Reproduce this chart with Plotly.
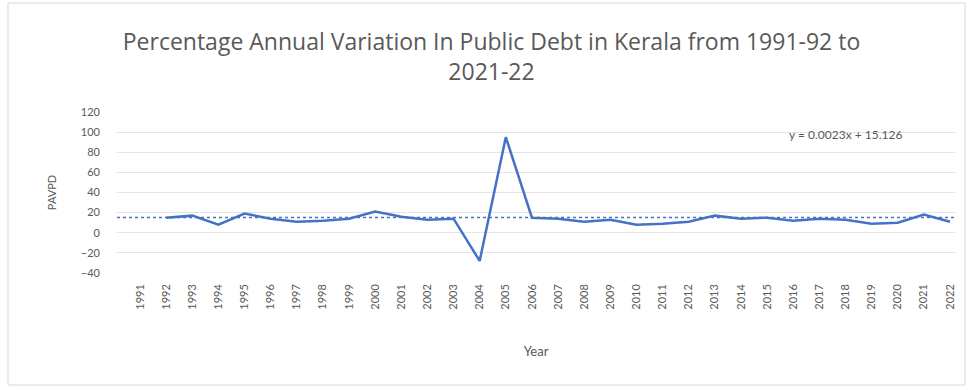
import plotly.graph_objects as go

years = [str(y) for y in range(1991, 2023)]
# 1991 has no value (variation starts 1991-92)
pavpd = [None, 15, 17, 8, 19, 14, 11, 12, 14, 21, 16, 13, 14, -28, 95, 15,
         14, 11, 13, 8, 9, 11, 17, 14, 15, 12, 14, 13, 9, 10, 18, 11]
trend_slope = 0.0023
trend_intercept = 15.126
y_ticks = [-40, -20, 0, 20, 40, 60, 80, 100, 120]

W, H = 968, 390
L, R, T, B = 117, 13, 112, 117
plot_w = W - L - R
plot_h = H - T - B
n = len(years)
first_px, last_px = 140, 950
step = (last_px - first_px) / (n - 1)
x_lo = -(first_px - L) / step
x_hi = (n - 1) + (W - R - last_px) / step

xs = list(range(n))
blue = "#4472C4"
grey = "#595959"

fig = go.Figure()
tx = [x_lo, x_hi]
ty = [trend_slope * v + trend_intercept for v in tx]
fig.add_trace(go.Scatter(x=tx, y=ty, mode="lines",
                         line=dict(color=blue, width=1.5, dash="dot"),
                         hoverinfo="skip", showlegend=False))
fig.add_trace(go.Scatter(x=xs, y=pavpd, mode="lines",
                         line=dict(color=blue, width=2.5),
                         connectgaps=False, showlegend=False))

fig.update_layout(
    template="none",
    width=W, height=H,
    margin=dict(l=L, r=R, t=T, b=B, autoexpand=False),
    paper_bgcolor="white", plot_bgcolor="white",
    font=dict(family="Lato, Open Sans, sans-serif", color=grey, size=11),
    title=dict(text="Percentage Annual Variation In Public Debt in Kerala from 1991-92 to<br>2021-22",
               x=491.5 / W, xref="container", y=(H - 50) / H, yref="container",
               xanchor="center", yanchor="top", automargin=False,
               font=dict(size=23, color=grey, family="Open Sans, Lato, sans-serif")),
    xaxis=dict(range=[x_lo, x_hi], tickmode="array", tickvals=xs, ticktext=years,
               tickangle=-90, showgrid=False, zeroline=False, showline=False,
               ticks="", ticklabelstandoff=8, automargin=False,
               tickfont=dict(size=11, color=grey),
               title=dict(text="Year", standoff=38, font=dict(size=13, color=grey))),
    yaxis=dict(range=[-40, 120], tickmode="array", tickvals=y_ticks,
               showgrid=True, gridcolor="#e6e4e2", gridwidth=1.2,
               zeroline=False, showline=False, ticks="", ticklabelstandoff=16,
               automargin=False, tickfont=dict(size=11, color=grey),
               title=dict(text="PAVPD", standoff=22, font=dict(size=11, color=grey))),
    annotations=[dict(text="y = 0.0023x + 15.126",
                      x=(845 - L) / plot_w, y=(H - B - 134) / plot_h,
                      xref="paper", yref="paper", showarrow=False,
                      xanchor="center", yanchor="middle",
                      font=dict(size=12, color=grey))],
)

fig.add_shape(type="rect", xref="paper", yref="paper",
              x0=(8 - L) / plot_w, x1=(965 - L) / plot_w,
              y0=(H - B - 385) / plot_h, y1=(H - B - 3) / plot_h,
              line=dict(color="#d9d9d9", width=1), layer="below")

fig.write_html("out.html", config={"displayModeBar": False},
               post_script="document.body.style.margin='0';document.body.style.overflow='hidden';")
